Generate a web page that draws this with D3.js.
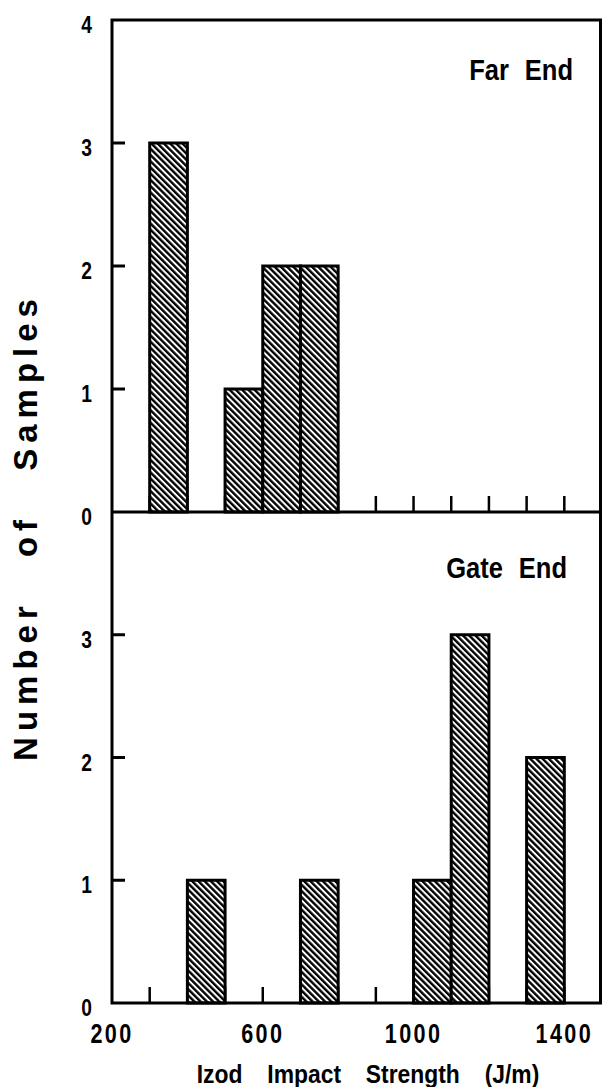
<!DOCTYPE html>
<html>
<head>
<meta charset="utf-8">
<script src="https://cdn.jsdelivr.net/npm/d3@7"></script>
<style>
  body { margin: 0; background: #fff; }
  text { fill: #000; font-family: "Liberation Sans", Arial, sans-serif; }
</style>
</head>
<body>
<div id="chart"></div>
<script>
// histogram bins (lower edge, J/m) and counts, bin width 100
const binWidth = 100
const farBins = [300, 500, 600, 700]
const farCounts = [3, 1, 2, 2]
const gateBins = [400, 700, 1000, 1100, 1300]
const gateCounts = [1, 1, 1, 3, 2]

const xLabels = [200, 600, 1000, 1400]
const xMinorTicks = [300, 400, 500, 600, 700, 800, 900, 1000, 1100, 1200, 1300, 1400]
const farYLabels = [0, 1, 2, 3, 4]
const gateYLabels = [0, 1, 2, 3]
const yTicks = [1, 2, 3]

const width = 604
const height = 1087
const margin = { top: 20, left: 112, right: 2, bottom: 84 }

const svg = d3
  .select('#chart')
  .append('svg')
  .attr('width', width)
  .attr('height', height)

const defs = svg.append('defs')
const pat = defs
  .append('pattern')
  .attr('id', 'hatch')
  .attr('patternUnits', 'userSpaceOnUse')
  .attr('width', 4.4)
  .attr('height', 4.4)
  .attr('patternTransform', 'rotate(-45)')
pat.append('rect').attr('width', 4.4).attr('height', 4.4).attr('fill', '#fff')
pat.append('rect').attr('width', 2.4).attr('height', 4.4).attr('fill', '#000')

const x = d3.scaleLinear().domain([200, 1500]).range([margin.left, width - margin.right])

const plotBottom = height - margin.bottom
const mid = (margin.top + plotBottom) / 2 + 0.5

const panels = [
  { name: 'Far End', bins: farBins, counts: farCounts, labels: farYLabels,
    y: d3.scaleLinear().domain([0, 4]).range([mid, margin.top]), titleX: 573, titleY: 80 },
  { name: 'Gate End', bins: gateBins, counts: gateCounts, labels: gateYLabels,
    y: d3.scaleLinear().domain([0, 4]).range([plotBottom, mid]), titleX: 567, titleY: 578 }
]

panels.forEach(p => {
  const g = svg.append('g')

  // x ticks pointing up from the baseline
  g.selectAll('.xtick')
    .data(xMinorTicks)
    .enter()
    .append('line')
    .attr('x1', d => x(d))
    .attr('x2', d => x(d))
    .attr('y1', p.y(0))
    .attr('y2', p.y(0) - 16)
    .attr('stroke', '#000')
    .attr('stroke-width', 2.5)

  // y ticks pointing in from the left
  g.selectAll('.ytick')
    .data(yTicks)
    .enter()
    .append('line')
    .attr('x1', margin.left)
    .attr('x2', margin.left + 13)
    .attr('y1', d => p.y(d))
    .attr('y2', d => p.y(d))
    .attr('stroke', '#000')
    .attr('stroke-width', 3)

  g.selectAll('.bar')
    .data(p.bins)
    .enter()
    .append('rect')
    .attr('x', d => x(d))
    .attr('width', d => x(d + binWidth) - x(d))
    .attr('y', (d, i) => p.y(p.counts[i]))
    .attr('height', (d, i) => p.y(0) - p.y(p.counts[i]))
    .attr('fill', 'url(#hatch)')
    .attr('stroke', '#000')
    .attr('stroke-width', 3)

  g.selectAll('.ylab')
    .data(p.labels)
    .enter()
    .append('text')
    .attr('transform', d => `translate(92, ${p.y(d) + 13}) scale(0.8, 1)`)
    .attr('text-anchor', 'end')
    .style('font-weight', 'bold')
    .style('font-size', '24px')
    .text(d => d)

  g.append('text')
    .attr('transform', `translate(${p.titleX}, ${p.titleY}) scale(0.88, 1)`)
    .attr('text-anchor', 'end')
    .attr('word-spacing', 10)
    .style('font-weight', 'bold')
    .style('font-size', '29px')
    .text(p.name)
})

// frame
svg.append('rect')
  .attr('x', margin.left)
  .attr('y', margin.top)
  .attr('width', x(1500) - margin.left - 1.5)
  .attr('height', plotBottom - margin.top)
  .attr('fill', 'none')
  .attr('stroke', '#000')
  .attr('stroke-width', 3)

svg.append('line')
  .attr('x1', margin.left)
  .attr('x2', x(1500))
  .attr('y1', mid)
  .attr('y2', mid)
  .attr('stroke', '#000')
  .attr('stroke-width', 3)

svg.selectAll('.xlab')
  .data(xLabels)
  .enter()
  .append('text')
  .attr('transform', d => `translate(${x(d)}, 1043) scale(0.8, 1)`)
  .attr('text-anchor', 'middle')
  .attr('letter-spacing', 3)
  .style('font-weight', 'bold')
  .style('font-size', '27px')
  .text(d => d)

svg.append('text')
  .attr('transform', 'translate(368, 1083) scale(0.88, 1)')
  .attr('text-anchor', 'middle')
  .attr('word-spacing', 21)
  .style('font-weight', 'bold')
  .style('font-size', '26px')
  .text('Izod Impact Strength (J/m)')

svg.append('text')
  .attr('transform', 'translate(37, 527) rotate(-90)')
  .attr('text-anchor', 'middle')
  .attr('letter-spacing', 6)
  .attr('word-spacing', 28)
  .style('font-weight', 'bold')
  .style('font-size', '33px')
  .text('Number of Samples')
</script>
</body>
</html>
